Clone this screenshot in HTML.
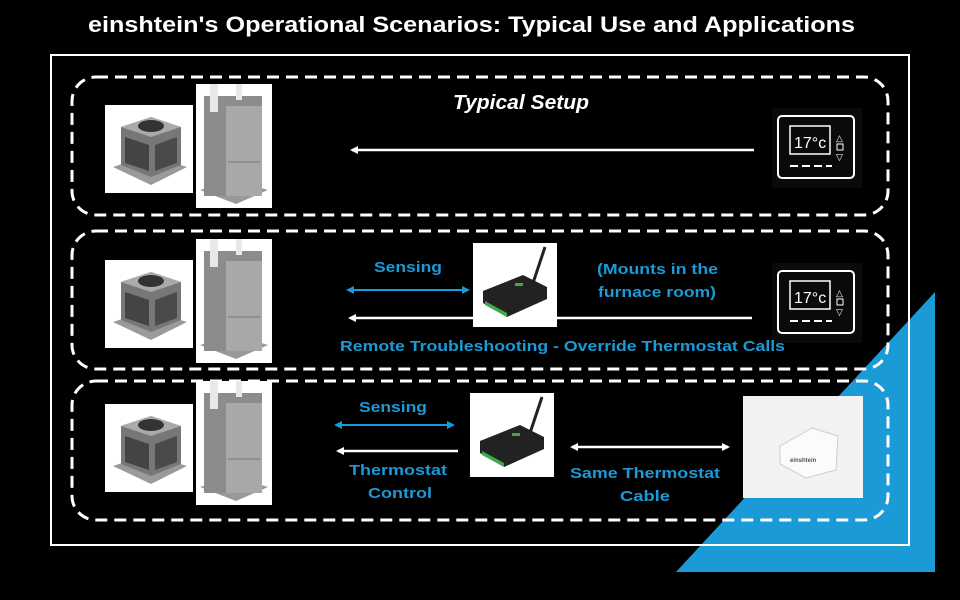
<!DOCTYPE html>
<html><head><meta charset="utf-8"><style>
body{margin:0;background:#000;width:960px;height:600px;overflow:hidden}
svg{display:block}
text{font-family:"Liberation Sans",sans-serif;font-weight:bold}
</style></head><body>
<svg width="960" height="600" viewBox="0 0 960 600">
<defs>
<marker id="ah" markerWidth="8" markerHeight="8" refX="6" refY="4" orient="auto-start-reverse" markerUnits="userSpaceOnUse"><path d="M0,0 L8,4 L0,8 z" fill="#fff"/></marker>
<marker id="ab" markerWidth="8" markerHeight="8" refX="6" refY="4" orient="auto-start-reverse" markerUnits="userSpaceOnUse"><path d="M0,0 L8,4 L0,8 z" fill="#1a9ad6"/></marker>
<g id="ac">
<rect width="88" height="88" fill="#fff"/>
<path d="M8,62 L44,50 L82,62 L46,80 z" fill="#9a9a9a"/>
<path d="M16,22 L46,12 L76,22 L76,60 L46,72 L16,60 z" fill="#777"/>
<path d="M16,22 L46,12 L76,22 L46,32 z" fill="#aaa"/>
<ellipse cx="46" cy="21" rx="13" ry="6" fill="#333"/>
<path d="M20,32 L44,40 L44,66 L20,58 z" fill="#444"/>
<path d="M50,40 L72,32 L72,58 L50,66 z" fill="#4a4a4a"/>
</g>
<g id="fu">
<rect width="76" height="124" fill="#fff"/>
<path d="M4,106 L38,96 L72,106 L40,120 z" fill="#999"/>
<rect x="8" y="12" width="58" height="100" fill="#8c8c8c"/>
<rect x="30" y="22" width="36" height="90" fill="#a8a8a8"/>
<rect x="14" y="0" width="8" height="28" fill="#e8e8e8"/>
<rect x="40" y="0" width="6" height="16" fill="#e8e8e8"/>
<line x1="32" y1="78" x2="64" y2="78" stroke="#777"/>
</g>
<g id="th">
<rect width="90" height="80" fill="#0a0a0a"/>
<rect x="6" y="8" width="76" height="62" rx="4" fill="none" stroke="#fff" stroke-width="2"/>
<rect x="18" y="18" width="40" height="28" fill="none" stroke="#fff" stroke-width="1.5"/>
<text x="22" y="40" fill="#fff" font-size="16" style="font-weight:normal">17°c</text>
<text x="64" y="33" fill="#fff" font-size="9" style="font-weight:normal">△</text>
<rect x="65" y="36" width="6" height="6" fill="none" stroke="#fff"/>
<text x="64" y="52" fill="#fff" font-size="9" style="font-weight:normal">▽</text>
<path d="M18,58 h8 M30,58 h8 M42,58 h8 M54,58 h6" stroke="#fff" stroke-width="2"/>
</g>
<g id="dv">
<rect width="84" height="84" fill="#fff"/>
<path d="M10,48 L50,32 L74,44 L74,56 L34,74 L10,60 z" fill="#222"/>
<path d="M12,58 L34,70 L34,74 L12,62 z" fill="#3ea84a"/>
<line x1="60" y1="40" x2="72" y2="4" stroke="#222" stroke-width="3"/>
<rect x="42" y="40" width="8" height="3" fill="#3ea84a"/>
</g>
</defs>
<text x="88" y="32" fill="#fff" font-size="22" textLength="767" lengthAdjust="spacingAndGlyphs">einshtein's Operational Scenarios: Typical Use and Applications</text>
<polygon points="935,292 935,572 676,572" fill="#1a9ad6"/>
<rect x="51" y="55" width="858" height="490" fill="none" stroke="#fff" stroke-width="2"/>
<g fill="none" stroke="#fff" stroke-width="3" stroke-dasharray="12,7">
<rect x="72" y="77" width="816" height="138" rx="24"/>
<rect x="72" y="231" width="816" height="138" rx="24"/>
<rect x="72" y="381" width="816" height="139" rx="24"/>
</g>
<use href="#ac" x="105" y="105"/><use href="#fu" x="196" y="84"/>
<use href="#ac" x="105" y="260"/><use href="#fu" x="196" y="239"/>
<use href="#ac" x="105" y="404"/><use href="#fu" x="196" y="381"/>
<text x="453" y="109" fill="#fff" font-size="20" font-style="italic" textLength="136" lengthAdjust="spacingAndGlyphs">Typical Setup</text>
<use href="#th" x="772" y="108"/>
<use href="#th" x="772" y="263"/>
<line x1="754" y1="150" x2="352" y2="150" stroke="#fff" stroke-width="2.5" marker-end="url(#ah)"/>
<text x="374" y="272" fill="#1a9ad6" font-size="15" textLength="68" lengthAdjust="spacingAndGlyphs">Sensing</text>
<line x1="348" y1="290" x2="468" y2="290" stroke="#1a9ad6" stroke-width="2" marker-start="url(#ab)" marker-end="url(#ab)"/>
<use href="#dv" x="473" y="243"/>
<line x1="752" y1="318" x2="556" y2="318" stroke="#fff" stroke-width="2.5"/>
<line x1="473" y1="318" x2="350" y2="318" stroke="#fff" stroke-width="2.5" marker-end="url(#ah)"/>
<text x="597" y="274" fill="#1a9ad6" font-size="15" textLength="121" lengthAdjust="spacingAndGlyphs">(Mounts in the</text>
<text x="598" y="297" fill="#1a9ad6" font-size="15" textLength="118" lengthAdjust="spacingAndGlyphs">furnace room)</text>
<text x="340" y="351" fill="#1a9ad6" font-size="15" textLength="445" lengthAdjust="spacingAndGlyphs">Remote Troubleshooting - Override Thermostat Calls</text>
<text x="359" y="412" fill="#1a9ad6" font-size="15" textLength="68" lengthAdjust="spacingAndGlyphs">Sensing</text>
<line x1="336" y1="425" x2="453" y2="425" stroke="#1a9ad6" stroke-width="2" marker-start="url(#ab)" marker-end="url(#ab)"/>
<line x1="458" y1="451" x2="338" y2="451" stroke="#fff" stroke-width="2.5" marker-end="url(#ah)"/>
<text x="349" y="475" fill="#1a9ad6" font-size="15" textLength="98" lengthAdjust="spacingAndGlyphs">Thermostat</text>
<text x="368" y="498" fill="#1a9ad6" font-size="15" textLength="64" lengthAdjust="spacingAndGlyphs">Control</text>
<use href="#dv" x="470" y="393"/>
<line x1="572" y1="447" x2="728" y2="447" stroke="#fff" stroke-width="2.5" marker-start="url(#ah)" marker-end="url(#ah)"/>
<text x="570" y="478" fill="#1a9ad6" font-size="15" textLength="150" lengthAdjust="spacingAndGlyphs">Same Thermostat</text>
<text x="620" y="501" fill="#1a9ad6" font-size="15" textLength="50" lengthAdjust="spacingAndGlyphs">Cable</text>
<rect x="743" y="396" width="120" height="102" fill="#f2f2f2"/>
<path d="M780,446 L812,428 L838,436 L836,470 L806,478 L780,464 z" fill="#fbfbfb" stroke="#ccc"/>
<text x="790" y="462" fill="#555" font-size="6">einshtein</text>
</svg>
</body></html>
